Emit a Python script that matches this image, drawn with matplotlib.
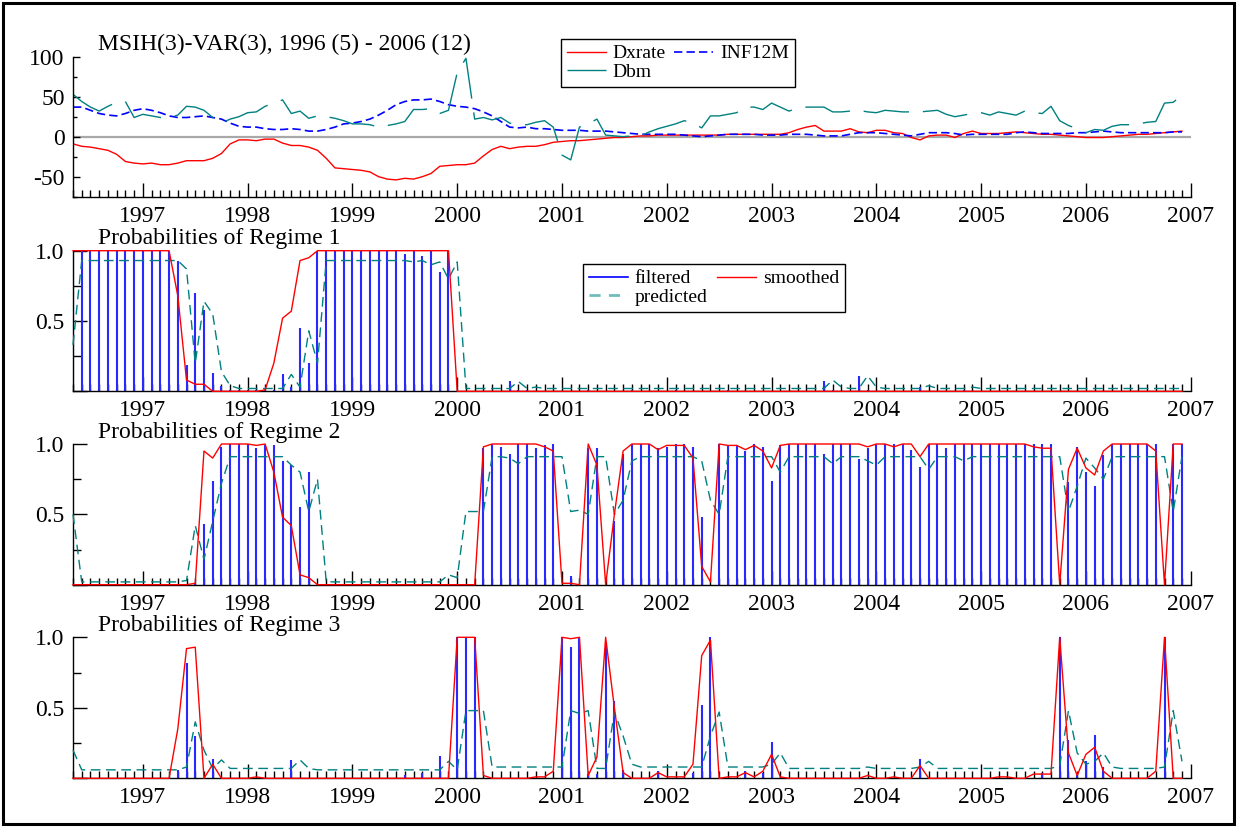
import numpy as np
import matplotlib
matplotlib.use('Agg')
from matplotlib import pyplot as plt
from matplotlib.patches import Rectangle
from matplotlib.lines import Line2D
from matplotlib.ticker import FixedLocator

plt.rcParams['font.family'] = ['Liberation Serif', 'DejaVu Serif']

# monthly sample 1996 (5) - 2006 (12)
startYear = 1996
startMonth = 5
numObs = 128

# rows: 1996 May-Dec, then one row per year 1997..2006
dxrate = [
  -9, -12, -13, -15, -17, -22, -31, -33,
  -34, -33, -35, -35, -33, -30, -30, -30, -27, -21, -9, -4,
  -4, -5, -3, -3, -8, -11, -11, -13, -17, -27, -39, -40,
  -41, -42, -44, -50, -53, -54, -52, -53, -50, -46, -37, -36,
  -35, -35, -33, -24, -16, -12, -15, -13, -12, -12, -10, -7,
  -6, -5, -5, -4, -3, -2, -1, -1, 0, 1, 1, 2,
  2, 2, 2, 2, 2, 2, 2, 3, 3, 3, 3, 3,
  3, 3, 5, 9, 12, 14, 7, 7, 7, 10, 6, 5,
  8, 8, 5, 4, -1, -4, 1, 2, 2, -1, 4, 7,
  4, 4, 4, 5, 6, 5, 4, 3, 3, 2, 1, 0,
  -1, -1, -1, 0, 1, 2, 3, 3, 4, 5, 6, 7]

inf12m = [
  37, 37, 33, 29, 27, 26, 29, 33,
  35, 33, 30, 26, 24, 24, 25, 26, 24, 22, 17, 13,
  12, 12, 10, 9, 9, 10, 9, 7, 7, 9, 12, 16,
  17, 19, 22, 27, 33, 40, 44, 46, 46, 47, 44, 40,
  38, 37, 35, 31, 26, 19, 12, 11, 12, 10, 10, 9,
  8, 8, 8, 7, 7, 7, 6, 5, 4, 3, 3, 3,
  3, 3, 2, 1, 0, 1, 2, 3, 3, 3, 3, 2,
  2, 2, 3, 3, 3, 2, 1, 1, 1, 3, 5, 5,
  5, 4, 3, 2, 1, 3, 5, 5, 5, 4, 2, 3,
  3, 3, 3, 3, 5, 6, 5, 4, 4, 4, 4, 5,
  5, 6, 7, 6, 5, 5, 5, 5, 5, 5, 6, 6]

dbm = [
  53, 44, 37, 32, 38, 43, 44, 24,
  28, 26, 24, 24, 27, 38, 37, 33, 24, 17, 22, 25,
  30, 31, 38, 42, 46, 29, 32, 23, 26, 25, 23, 20,
  16, 16, 15, 12, 14, 16, 19, 34, 34, 35, 29, 33,
  80, 98, 22, 24, 21, 24, 17, 15, 15, 18, 20, 12,
  -23, -29, 12, 16, 22, 2, 1, 0, 1, 1, 6, 10,
  13, 16, 20, 17, 11, 26, 26, 28, 30, 37, 37, 34,
  42, 37, 32, 36, 37, 37, 37, 31, 31, 32, 33, 31,
  30, 33, 32, 31, 31, 31, 32, 33, 28, 25, 27, 29,
  30, 27, 31, 29, 27, 32, 30, 29, 38, 20, 14, 10,
  5, 9, 8, 13, 15, 15, 16, 18, 19, 42, 43, 52]

# regime 1
filt1 = [
  1, 1, 1, 1, 1, 1, 1, 1,
  1, 1, 1, 1, 0.93, 0.19, 0.70, 0.58, 0.13, 0.04, 0.01, 0.01,
  0.01, 0.01, 0.01, 0.01, 0.12, 0.03, 0.45, 0.20, 1, 1, 1, 1,
  1, 1, 1, 1, 1, 1, 0.98, 1, 0.96, 1, 0.85, 1,
  0, 0, 0, 0, 0, 0, 0.07, 0.01, 0.01, 0, 0, 0,
  0, 0, 0, 0.01, 0, 0, 0, 0, 0.01, 0, 0, 0,
  0, 0.01, 0, 0, 0, 0, 0, 0.01, 0, 0, 0, 0,
  0, 0, 0, 0, 0, 0, 0.07, 0.01, 0, 0, 0.11, 0.01,
  0, 0, 0, 0, 0, 0.03, 0, 0, 0, 0, 0.01, 0,
  0, 0, 0, 0, 0, 0, 0, 0, 0, 0, 0, 0,
  0, 0, 0, 0, 0, 0, 0, 0, 0, 0, 0, 0]
smooth1 = [
  1, 1, 1, 1, 1, 1, 1, 1,
  1, 1, 1, 1, 0.68, 0.08, 0.05, 0.05, 0, 0, 0, 0,
  0, 0, 0.01, 0.20, 0.52, 0.57, 0.93, 0.95, 1, 1, 1, 1,
  1, 1, 1, 1, 1, 1, 1, 1, 1, 1, 1, 1,
  0, 0, 0, 0, 0, 0, 0, 0, 0, 0, 0, 0,
  0, 0, 0, 0, 0, 0, 0, 0, 0, 0, 0, 0,
  0, 0, 0, 0, 0, 0, 0, 0, 0, 0, 0, 0,
  0, 0, 0, 0, 0, 0, 0, 0, 0, 0, 0, 0,
  0, 0, 0, 0, 0, 0, 0, 0, 0, 0, 0, 0,
  0, 0, 0, 0, 0, 0, 0, 0, 0, 0, 0, 0,
  0, 0, 0, 0, 0, 0, 0, 0, 0, 0, 0, 0]
pred1 = [
  0.33, 0.93, 0.93, 0.93, 0.93, 0.93, 0.93, 0.93,
  0.93, 0.93, 0.93, 0.93, 0.93, 0.87, 0.20, 0.64, 0.55, 0.14, 0.04, 0.02,
  0.02, 0.02, 0.02, 0.02, 0.02, 0.12, 0.03, 0.43, 0.20, 0.93, 0.93, 0.93,
  0.93, 0.93, 0.93, 0.93, 0.93, 0.93, 0.93, 0.92, 0.93, 0.90, 0.92, 0.80,
  0.92, 0.02, 0.02, 0.02, 0.02, 0.02, 0.02, 0.07, 0.02, 0.03, 0.02, 0.02,
  0.02, 0.02, 0.02, 0.02, 0.02, 0.02, 0.02, 0.02, 0.02, 0.02, 0.02, 0.02,
  0.02, 0.02, 0.02, 0.02, 0.02, 0.02, 0.02, 0.02, 0.02, 0.02, 0.02, 0.02,
  0.02, 0.02, 0.02, 0.02, 0.02, 0.02, 0.02, 0.08, 0.03, 0.02, 0.02, 0.11,
  0.03, 0.02, 0.02, 0.02, 0.02, 0.02, 0.04, 0.02, 0.02, 0.02, 0.02, 0.03,
  0.02, 0.02, 0.02, 0.02, 0.02, 0.02, 0.02, 0.02, 0.02, 0.02, 0.02, 0.02,
  0.02, 0.02, 0.02, 0.02, 0.02, 0.02, 0.02, 0.02, 0.02, 0.02, 0.02, 0.02]

# regime 2
filt2 = [
  0, 0, 0, 0, 0, 0, 0, 0,
  0, 0, 0, 0, 0, 0, 0.01, 0.43, 0.74, 0.98, 1, 1,
  1, 0.97, 0.99, 0.99, 0.88, 0.85, 0.55, 0.80, 0, 0, 0, 0,
  0, 0, 0, 0, 0, 0, 0, 0, 0, 0, 0, 0,
  0, 0, 0, 0.97, 1, 0.98, 0.93, 1, 1, 0.97, 0.99, 1,
  0, 0.06, 0, 0.97, 0.97, 0, 0.45, 0.93, 1, 1, 1, 0.97,
  0.98, 1, 1, 0.98, 0.48, 0, 1, 0.99, 0.99, 0.95, 1, 0.98,
  0.74, 0.99, 1, 1, 1, 1, 0.93, 1, 1, 1, 0.89, 0.97,
  1, 1, 1, 1, 0.96, 0.84, 1, 1, 0.97, 1, 1, 1,
  1, 1, 1, 1, 1, 1, 1, 1, 1, 0, 0.73, 0.98,
  0.80, 0.70, 0.92, 1, 1, 1, 1, 1, 1, 0, 1, 1]
smooth2 = [
  0, 0, 0, 0, 0, 0, 0, 0,
  0, 0, 0, 0, 0, 0, 0.01, 0.95, 0.90, 1, 1, 1,
  1, 0.99, 1, 0.80, 0.48, 0.42, 0.07, 0.05, 0, 0, 0, 0,
  0, 0, 0, 0, 0, 0, 0, 0, 0, 0, 0, 0,
  0, 0, 0, 0.98, 1, 1, 1, 1, 1, 1, 0.98, 0.95,
  0.01, 0.01, 0, 1, 0.85, 0, 0.50, 0.95, 1, 1, 1, 0.96,
  0.99, 0.99, 0.99, 0.90, 0.13, 0.02, 1, 0.99, 0.99, 0.96, 0.99, 0.95,
  0.83, 0.99, 1, 1, 1, 1, 1, 1, 1, 1, 1, 0.98,
  1, 1, 0.98, 1, 1, 0.91, 1, 1, 1, 1, 1, 1,
  1, 1, 1, 1, 1, 1, 0.98, 0.97, 0.97, 0, 0.82, 0.97,
  0.83, 0.78, 0.95, 1, 1, 1, 1, 1, 0.95, 0, 1, 1]
pred2 = [
  0.50, 0.02, 0.02, 0.02, 0.02, 0.02, 0.02, 0.02,
  0.02, 0.02, 0.02, 0.02, 0.02, 0.03, 0.42, 0.18, 0.45, 0.72, 0.91, 0.91,
  0.91, 0.91, 0.91, 0.91, 0.91, 0.85, 0.80, 0.52, 0.75, 0.02, 0.02, 0.02,
  0.02, 0.02, 0.02, 0.02, 0.02, 0.02, 0.02, 0.02, 0.02, 0.02, 0.02, 0.07,
  0.05, 0.52, 0.52, 0.52, 0.91, 0.91, 0.90, 0.86, 0.91, 0.91, 0.91, 0.91,
  0.91, 0.52, 0.53, 0.50, 0.91, 0.91, 0.50, 0.60, 0.88, 0.91, 0.91, 0.91,
  0.91, 0.91, 0.91, 0.91, 0.88, 0.60, 0.50, 0.91, 0.91, 0.91, 0.91, 0.91,
  0.91, 0.80, 0.91, 0.91, 0.91, 0.91, 0.91, 0.86, 0.91, 0.91, 0.91, 0.88,
  0.85, 0.91, 0.91, 0.91, 0.91, 0.91, 0.82, 0.91, 0.91, 0.91, 0.88, 0.91,
  0.91, 0.91, 0.91, 0.91, 0.91, 0.91, 0.91, 0.91, 0.91, 0.91, 0.52, 0.70,
  0.90, 0.83, 0.75, 0.91, 0.91, 0.91, 0.91, 0.91, 0.91, 0.91, 0.52, 0.91]

# regime 3
filt3 = [
  0, 0, 0, 0, 0, 0, 0, 0,
  0, 0, 0, 0, 0.06, 0.82, 0.30, 0, 0.14, 0, 0, 0,
  0, 0, 0, 0, 0, 0.13, 0, 0, 0, 0, 0, 0,
  0, 0, 0, 0, 0, 0, 0.02, 0, 0.04, 0, 0.16, 0,
  1, 1, 1, 0, 0, 0, 0, 0, 0, 0, 0, 0,
  1, 0.93, 1, 0.03, 0.03, 0.97, 0.55, 0.06, 0, 0, 0, 0.05,
  0, 0, 0, 0.04, 0.52, 1, 0, 0, 0, 0.05, 0, 0.04,
  0.26, 0, 0, 0, 0, 0, 0, 0, 0, 0, 0, 0,
  0, 0, 0, 0, 0, 0.14, 0, 0, 0, 0, 0, 0,
  0, 0, 0, 0, 0, 0, 0, 0.04, 0, 1, 0.27, 0.02,
  0.12, 0.31, 0.08, 0, 0, 0, 0, 0, 0, 1, 0, 0]
smooth3 = [
  0, 0, 0, 0, 0, 0, 0, 0,
  0, 0, 0, 0, 0.35, 0.92, 0.93, 0, 0.10, 0, 0, 0,
  0, 0.01, 0, 0, 0, 0, 0, 0, 0, 0, 0, 0,
  0, 0, 0, 0, 0, 0, 0, 0, 0, 0, 0, 0,
  1, 1, 1, 0.02, 0, 0, 0, 0, 0, 0.01, 0.01, 0.05,
  1, 0.99, 1, 0.02, 0.15, 1, 0.50, 0.04, 0, 0, 0, 0.04,
  0.01, 0.01, 0.01, 0.10, 0.87, 0.98, 0, 0.01, 0.01, 0.04, 0.01, 0.05,
  0.17, 0.01, 0, 0, 0, 0, 0, 0, 0, 0, 0, 0.02,
  0, 0, 0.01, 0, 0, 0.09, 0, 0, 0, 0, 0, 0,
  0, 0, 0.01, 0.01, 0, 0, 0.03, 0.03, 0.03, 1, 0.18, 0.02,
  0.17, 0.22, 0.05, 0, 0, 0, 0, 0, 0.05, 1, 0, 0]
pred3 = [
  0.20, 0.06, 0.06, 0.06, 0.06, 0.06, 0.06, 0.06,
  0.06, 0.06, 0.06, 0.06, 0.06, 0.08, 0.40, 0.20, 0.07, 0.13, 0.07, 0.07,
  0.07, 0.07, 0.07, 0.07, 0.07, 0.07, 0.13, 0.07, 0.06, 0.06, 0.06, 0.06,
  0.06, 0.06, 0.06, 0.06, 0.06, 0.06, 0.06, 0.06, 0.06, 0.06, 0.06, 0.12,
  0.06, 0.48, 0.48, 0.48, 0.08, 0.08, 0.08, 0.08, 0.08, 0.08, 0.08, 0.08,
  0.08, 0.48, 0.46, 0.48, 0.07, 0.07, 0.47, 0.30, 0.10, 0.08, 0.08, 0.08,
  0.08, 0.08, 0.08, 0.08, 0.08, 0.30, 0.47, 0.08, 0.08, 0.08, 0.08, 0.08,
  0.10, 0.18, 0.07, 0.07, 0.07, 0.07, 0.07, 0.07, 0.07, 0.07, 0.07, 0.08,
  0.07, 0.07, 0.07, 0.07, 0.07, 0.08, 0.12, 0.07, 0.07, 0.07, 0.07, 0.07,
  0.07, 0.07, 0.07, 0.07, 0.07, 0.07, 0.07, 0.07, 0.07, 0.09, 0.48, 0.18,
  0.10, 0.12, 0.18, 0.08, 0.07, 0.07, 0.07, 0.07, 0.07, 0.08, 0.48, 0.12]

# time axis in decimal years
t = startYear + (startMonth - 1 + np.arange(numObs)) / 12.0
xStart = startYear + (startMonth - 1) / 12.0
xEnd = 2007.0
years = np.arange(1997, 2008)
monthTicks = startYear + (startMonth - 1 + np.arange(numObs + 1)) / 12.0

W, H = 1237, 827
fig = plt.figure(figsize=(W / 100.0, H / 100.0), dpi=100)
labelSize = 17


def pxAxes(left, top, right, bottom):
  return fig.add_axes([left / W, 1 - bottom / H, (right - left) / W,
                       (bottom - top) / H])


def styleAxes(ax, yMajLen, yMinLen):
  for s in ['top', 'right']:
    ax.spines[s].set_visible(False)
  for s in ['left', 'bottom']:
    ax.spines[s].set_linewidth(1.0)
  ax.set_xlim(xStart, xEnd)
  ax.xaxis.set_major_locator(FixedLocator(years))
  ax.xaxis.set_minor_locator(FixedLocator(monthTicks))
  ax.set_xticklabels([str(y) for y in years])
  ax.tick_params(axis='x', which='major', direction='in', length=10,
                 width=1, labelsize=labelSize, pad=6.5)
  ax.tick_params(axis='x', which='minor', direction='in', length=5, width=1)
  ax.tick_params(axis='y', which='major', direction='in', length=yMajLen,
                 width=1, labelsize=labelSize, pad=6)
  ax.tick_params(axis='y', which='minor', direction='in', length=yMinLen,
                 width=1)
  ax.patch.set_alpha(0)


teal = '#008080'
left, right = 73, 1190.7
legendKw = dict(loc='upper left', bbox_transform=fig.transFigure,
                fontsize=14, fancybox=False, edgecolor='black',
                framealpha=1, handlelength=2.0, handletextpad=0.35,
                labelspacing=0.05, borderpad=0.3, borderaxespad=0, ncol=2)

# top panel: the data
ax0 = pxAxes(left, 56.7, right, 196.7)
ax0.axhline(0, color='#a8a8a8', lw=1.6, zorder=1)
lDx, = ax0.plot(t, dxrate, color='red', lw=1.0)
lInf, = ax0.plot(t, inf12m, color='blue', lw=1.2, dashes=(5, 2.5))
lDbm, = ax0.plot(t, dbm, color=teal, lw=1.0, dashes=(33, 10))
ax0.set_ylim(-75, 100)
ax0.yaxis.set_major_locator(FixedLocator([-50, 0, 50, 100]))
ax0.yaxis.set_minor_locator(FixedLocator([-75, -25, 25, 75]))
ax0.set_yticklabels(['-50', '0', '50', '100'])
styleAxes(ax0, 5, 3)
fig.text(98 / W, 1 - 44 / H, 'MSIH(3)-VAR(3), 1996 (5) - 2006 (12)',
         fontsize=labelSize, va='center', ha='left')
leg = ax0.legend([lDx, lDbm, lInf], ['Dxrate', 'Dbm', 'INF12M'],
                 bbox_to_anchor=(561 / W, 1 - 39 / H), columnspacing=0.45,
                 **legendKw)
leg.get_frame().set_linewidth(1.0)

# regime probability panels
panels = [(250.7, 391.3, filt1, smooth1, pred1, 'Probabilities of Regime 1'),
          (444.0, 584.7, filt2, smooth2, pred2, 'Probabilities of Regime 2'),
          (637.3, 778.3, filt3, smooth3, pred3, 'Probabilities of Regime 3')]

for k, (top, bottom, filt, smooth, pred, title) in enumerate(panels):
  ax = pxAxes(left, top, right, bottom)
  ax.vlines(t, 0, filt, colors='#2828ff', lw=1.5, zorder=2)
  ax.plot(t, pred, color=teal, lw=1.0, dashes=(7, 4), zorder=3,
          clip_on=False)
  ls, = ax.plot(t, smooth, color='red', lw=1.0, zorder=4, clip_on=False)
  ax.set_ylim(0, 1)
  ax.yaxis.set_major_locator(FixedLocator([0, 0.5, 1.0]))
  ax.yaxis.set_minor_locator(FixedLocator([0.25, 0.75]))
  ax.set_yticklabels(['', '0.5', '1.0'])
  styleAxes(ax, 10, 6)
  fig.text(98 / W, 1 - (top - 12) / H, title, fontsize=labelSize,
           va='center', ha='left')
  if k == 0:
    hf = Line2D([], [], color='blue', lw=1.2)
    hp = Line2D([], [], color='#70bcbc', lw=2.0, dashes=(4, 3))
    leg2 = ax.legend([hf, hp, ls], ['filtered', 'predicted', 'smoothed'],
                     bbox_to_anchor=(583 / W, 1 - 264 / H),
                     columnspacing=0.5, **legendKw)
    leg2.get_frame().set_linewidth(1.0)

# outer frame
fig.patches.append(Rectangle((3 / W, 3 / H), (W - 6) / W, (H - 6) / H,
                             transform=fig.transFigure, fill=False,
                             lw=2.2, ec='black'))

plt.savefig('out.png', dpi=100)
